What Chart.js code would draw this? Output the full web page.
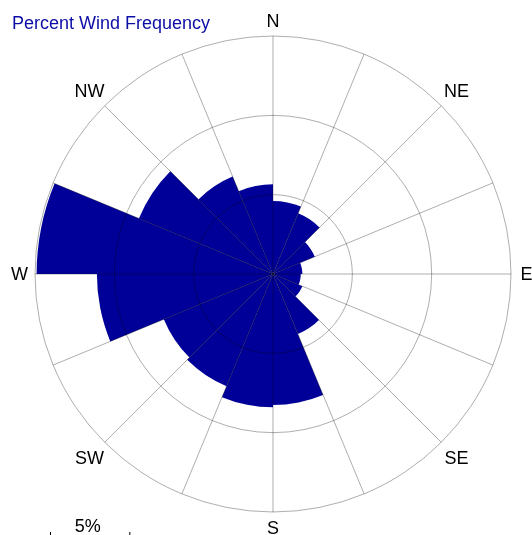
<!DOCTYPE html>
<html>
<head>
<meta charset="utf-8">
<script src="https://cdn.jsdelivr.net/npm/chart.js@4"></script>
<style>
  html, body { margin: 0; padding: 0; background: #fff; }
  #wrap { width: 532px; height: 535px; }
</style>
</head>
<body>
<div id="wrap"><canvas id="rose"></canvas></div>
<script>
// rosa dos ventos - 16 setores, cada um começa na direção do rótulo (sentido horário)
const direcoes = ["N", "NNE", "NE", "ENE", "E", "ESE", "SE", "SSE", "S", "SSW", "SW", "WSW", "W", "WNW", "NW", "NNW"];
const frequencia = [4.6, 4.15, 2.85, 1.85, 1.75, 2.0, 4.1, 8.25, 8.4, 7.65, 7.45, 11.1, 14.9, 9.15, 6.65, 5.65];
const rotulosPrincipais = ["N", "NE", "E", "SE", "S", "SW", "W", "NW"];
const aneis = [5, 10, 15];
const escalaLegenda = "5%";
const titulo = "Percent Wind Frequency";

const fonte = "'Liberation Sans', Arial, sans-serif";

const textosPlugin = {
  id: "textos",
  afterDraw(chart) {
    const ctx = chart.ctx;
    const r = chart.scales.r;
    ctx.save();

    // titulo
    ctx.fillStyle = "#0c0ca6";
    ctx.font = "18px " + fonte;
    ctx.textAlign = "left";
    ctx.textBaseline = "alphabetic";
    ctx.fillText(titulo, 12, 29);

    // rotulos das direções
    ctx.fillStyle = "#000";
    ctx.textAlign = "center";
    direcoes.forEach((d, i) => {
      if (!rotulosPrincipais.includes(d)) return;
      const extra = d.length === 1 ? 15.5 : 21.5;
      const p = r.getPointPosition(i, r.drawingArea + extra);
      ctx.fillText(d, p.x, p.y + 6.4);
    });

    // barra de escala (5%)
    const comp = r.getDistanceFromCenterForValue(5);
    const x0 = 50;
    ctx.fillText(escalaLegenda, x0 + comp / 2 - 2, 532);
    ctx.strokeStyle = "#000";
    ctx.lineWidth = 1;
    ctx.beginPath();
    ctx.moveTo(x0 + 0.5, 532);
    ctx.lineTo(x0 + 0.5, 540);
    ctx.moveTo(x0 + comp + 0.5, 532);
    ctx.lineTo(x0 + comp + 0.5, 540);
    ctx.stroke();

    ctx.restore();
  }
};

new Chart(document.getElementById("rose"), {
  type: "polarArea",
  data: {
    labels: direcoes,
    datasets: [{
      data: frequencia,
      backgroundColor: "#000099",
      borderWidth: 0
    }]
  },
  options: {
    responsive: true,
    maintainAspectRatio: false,
    animation: false,
    layout: { padding: { left: 35, right: 20, top: 36, bottom: 22 } },
    plugins: {
      legend: { display: false },
      tooltip: { enabled: false }
    },
    scales: {
      r: {
        min: 0,
        max: aneis[aneis.length - 1],
        ticks: { display: false, stepSize: aneis[0] },
        pointLabels: { display: false },
        grid: { color: "rgba(0,0,0,0.32)", lineWidth: 1, z: 1 },
        angleLines: { display: true, color: "rgba(0,0,0,0.32)", lineWidth: 1 }
      }
    }
  },
  plugins: [textosPlugin]
});
</script>
</body>
</html>
